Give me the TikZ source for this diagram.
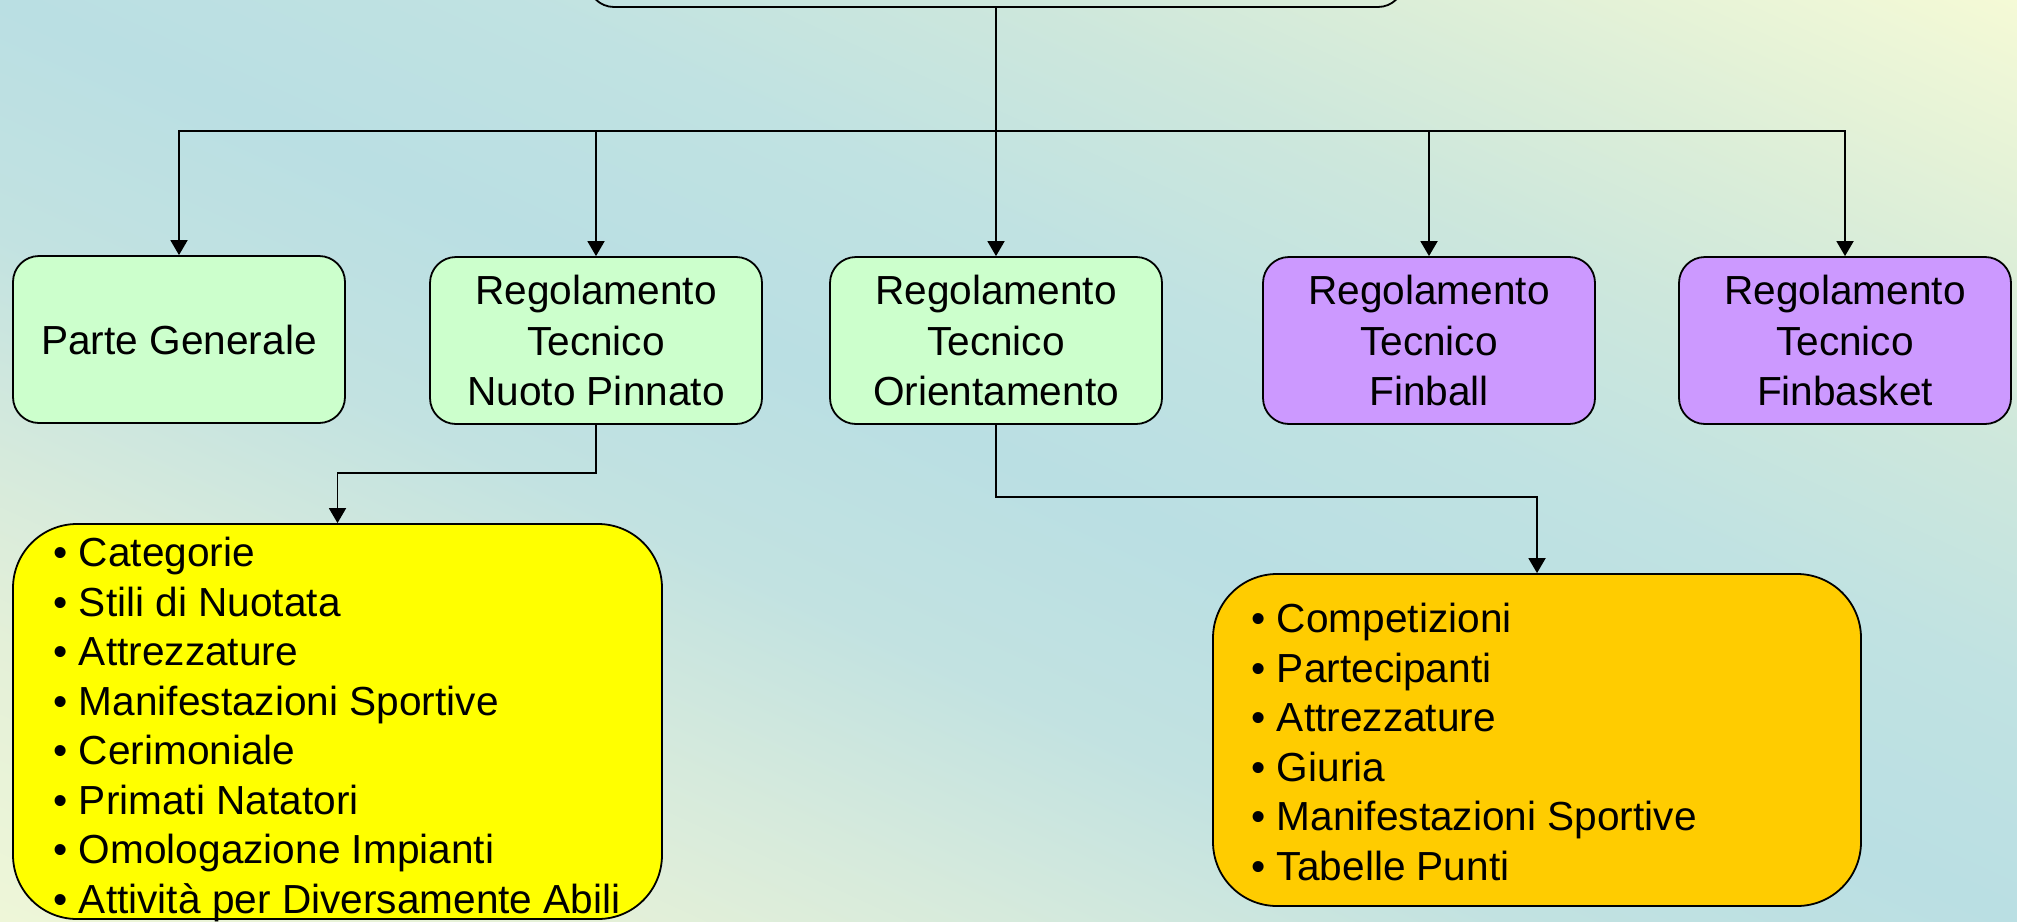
\documentclass[tikz,border=0pt]{standalone}
\usepackage{fontspec}
\setmainfont{Liberation Sans}
\usetikzlibrary{arrows.meta}
\definecolor{bgA}{HTML}{EEF6D8}
\definecolor{bgB}{HTML}{E4F0D8}
\definecolor{bgC}{HTML}{D6EADC}
\definecolor{bgD}{HTML}{C2E2E1}
\definecolor{bgE}{HTML}{BADFE3}
\definecolor{bgF}{HTML}{C0E2E2}
\definecolor{bgG}{HTML}{CDE7DC}
\definecolor{bgH}{HTML}{DCEED8}
\definecolor{bgI}{HTML}{F5FAD6}
\definecolor{boxgreen}{HTML}{CCFFCC}
\definecolor{boxpurple}{HTML}{CC99FF}
\definecolor{boxyellow}{HTML}{FFFF00}
\definecolor{boxorange}{HTML}{FFCC00}
\pgfdeclarehorizontalshading{bgshade}{100bp}{color(0bp)=(bgA); color(26.4bp)=(bgA); color(33.5bp)=(bgB); color(38.2bp)=(bgC); color(44.1bp)=(bgD); color(50bp)=(bgE); color(55.9bp)=(bgF); color(61.8bp)=(bgG); color(66.5bp)=(bgH); color(73.6bp)=(bgI); color(100bp)=(bgI)}
\tikzset{
  lvlbox/.style={draw=black, line width=0.9pt, rounded corners=13pt, minimum width=166pt, minimum height=83.5pt, align=center, inner sep=0pt, font=\fontsize{20.3pt}{25.2pt}\selectfont},
  greenbox/.style={lvlbox, fill=boxgreen},
  purplebox/.style={lvlbox, fill=boxpurple},
  bigbox/.style={draw=black, line width=0.9pt, rounded corners=32pt, inner sep=0pt},
  listtext/.style={align=left, inner sep=0pt, anchor=west},
  arr/.style={line width=0.9pt, -{Triangle[width=8.5pt,length=7.5pt]}},
  conn/.style={line width=0.9pt}
}
\begin{document}
\begin{tikzpicture}[x=0.5pt, y=-0.5pt, font=\fontsize{20.3pt}{24.75pt}\selectfont]
\useasboundingbox (0,0) rectangle (2017,921);
% background gradient
\begin{scope}
  \clip (0,0) rectangle (2017,921);
  \begin{scope}[transform canvas={shift={(1008.5,460.5)}, xscale=5.0425, yscale=2.3025, rotate=45}]
    \shade[shading=bgshade] (-150pt,-150pt) rectangle (150pt,150pt);
  \end{scope}
\end{scope}
% root box (mostly outside the picture)
\node[draw=black, line width=0.9pt, rounded corners=13pt, minimum width=408pt, minimum height=67pt, inner sep=0pt] (root) at (996,-60) {};
% level 2
\node[greenbox] (b1) at (179,339.5) {Parte Generale};
\node[greenbox] (b2) at (596,340.5) {Regolamento\\Tecnico\\Nuoto Pinnato};
\node[greenbox] (b3) at (996,340.5) {Regolamento\\Tecnico\\Orientamento};
\node[purplebox] (b4) at (1429,340.5) {Regolamento\\Tecnico\\Finball};
\node[purplebox] (b5) at (1845,340.5) {Regolamento\\Tecnico\\Finbasket};
% level 3
\node[bigbox, fill=boxyellow, minimum width=324.5pt, minimum height=197.5pt] (yel) at (337.5,721.5) {};
\node[listtext] (yeltext) at ([xshift=20.5pt,yshift=-4pt]yel.west) {• Categorie\\• Stili di Nuotata\\• Attrezzature\\• Manifestazioni Sportive\\• Cerimoniale\\• Primati Natatori\\• Omologazione Impianti\\• Attività per Diversamente Abili};
\node[bigbox, fill=boxorange, minimum width=324pt, minimum height=166pt] (ora) at (1537,740) {};
\node[listtext] (oratext) at ([xshift=19.5pt,yshift=-1pt]ora.west) {• Competizioni\\• Partecipanti\\• Attrezzature\\• Giuria\\• Manifestazioni Sportive\\• Tabelle Punti};
% connectors
\coordinate (bus) at (996,131);
\coordinate (e1) at (596,473);
\coordinate (e2) at (996,497);
\draw[arr] (root.south) -- (b3.north);
\draw[arr] (bus) -| (b1.north);
\draw[arr] (bus) -| (b2.north);
\draw[arr] (bus) -| (b4.north);
\draw[arr] (bus) -| (b5.north);
\draw[arr] (b2.south) -- (e1) -| (yel.north);
\draw[arr] (b3.south) -- (e2) -| (ora.north);
\end{tikzpicture}
\end{document}
